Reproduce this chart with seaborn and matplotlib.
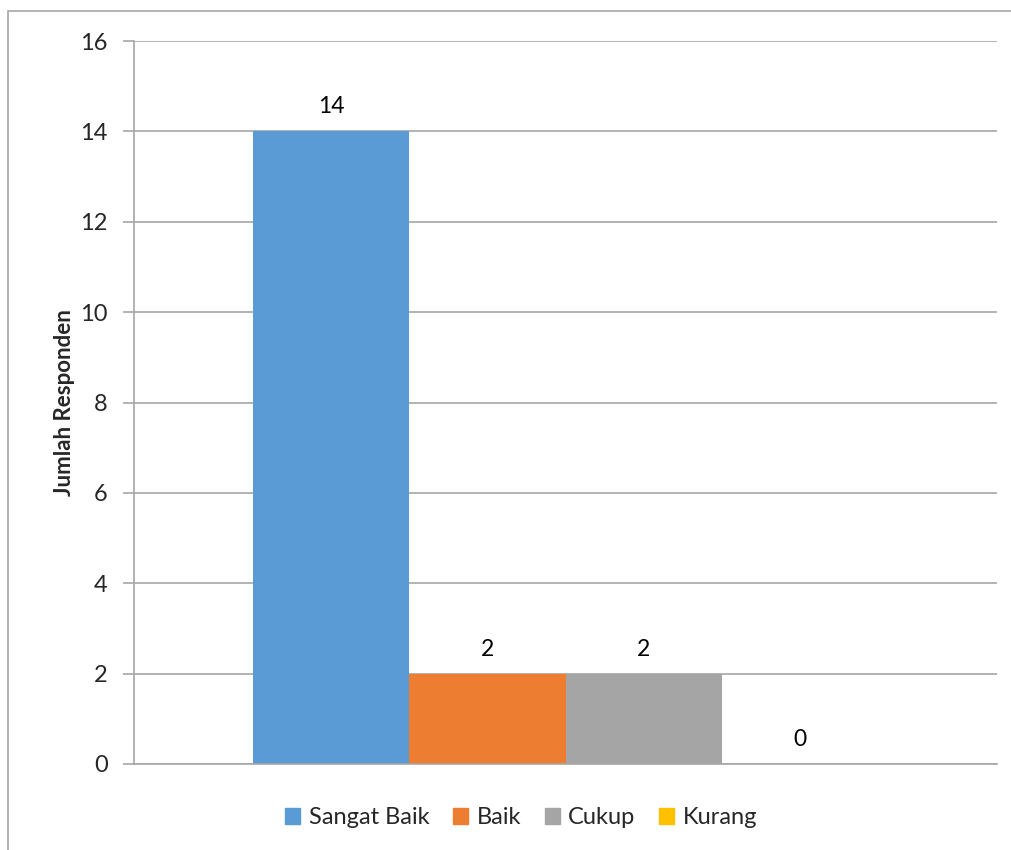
import pandas as pd
import matplotlib.pyplot as plt
import seaborn as sns
from matplotlib.patches import Rectangle

# Data
series = ['Sangat Baik', 'Baik', 'Cukup', 'Kurang']
counts = [14, 2, 2, 0]
colors = ['#5b9bd5', '#ed7d31', '#a5a5a5', '#ffc000']
y_ticks = [0, 2, 4, 6, 8, 10, 12, 14, 16]

sns.set_style('white')
plt.rcParams['font.family'] = ['Lato', 'DejaVu Sans']

df = pd.DataFrame({'kategori': [''] * len(series), 'penilaian': series, 'jumlah': counts})

fig = plt.figure(figsize=(10.12, 8.5), dpi=100)
ax = fig.add_axes([134 / 1012, 1 - 764 / 850, (997 - 134) / 1012, (764 - 41) / 850])

sns.barplot(data=df, x='kategori', y='jumlah', hue='penilaian', hue_order=series,
            palette=colors, width=0.724, saturation=1, ax=ax, legend=False,
            edgecolor='none', linewidth=0)

for c in ax.containers:
    ax.bar_label(c, fontsize=16.5, padding=10, color='black')

ax.set_xlim(-0.5, 0.5)
ax.set_ylim(0, 16)
ax.set_yticks(y_ticks)
ax.set_yticklabels([str(t) for t in y_ticks], fontsize=17)
ax.set_xticks([])
ax.set_xlabel('')
ax.set_ylabel('Jumlah Responden', fontsize=16, fontweight='bold', labelpad=4)
ax.yaxis.grid(True, color='#a6a6a6', linewidth=1.2)
ax.set_axisbelow(True)
ax.tick_params(axis='y', left=True, length=8, width=1.2, color='#a6a6a6', pad=11)
for s in ['top', 'right']:
    ax.spines[s].set_visible(False)
for s in ['left', 'bottom']:
    ax.spines[s].set_color('#a6a6a6')
    ax.spines[s].set_linewidth(1.2)

handles = [Rectangle((0, 0), 1, 1, color=c) for c in colors]
fig.legend(handles, series, loc='center', bbox_to_anchor=(0.515, 1 - 818 / 850),
           ncol=4, frameon=False, fontsize=17, handlelength=0.65, handleheight=0.65,
           handletextpad=0.35, columnspacing=1.0)

# chart border
fig.add_artist(Rectangle((8 / 1012, -0.05), 1.1, 1 - 11 / 850 + 0.05,
                         transform=fig.transFigure, fill=False,
                         edgecolor='#a6a6a6', linewidth=1.2))

plt.savefig('out.png', dpi=100)
plt.close()
